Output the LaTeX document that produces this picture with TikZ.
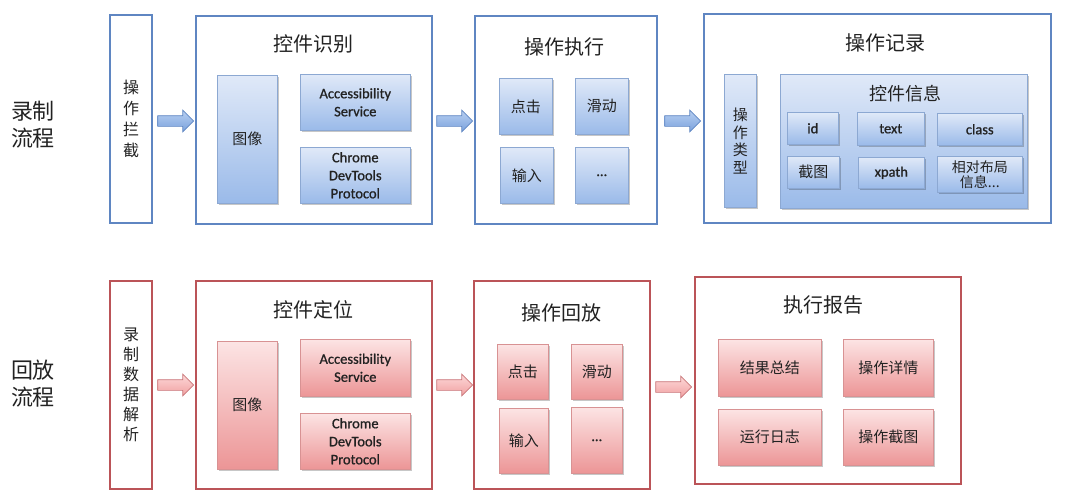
\documentclass[tikz,border=0pt]{standalone}
\usepackage{fontspec}
\setmainfont{Carlito}
\newfontfamily\enf{Carlito}[FakeBold=0.9]
\newfontfamily\cjk{Noto Sans CJK SC}
\usetikzlibrary{shadows,shapes.arrows,calc}
\definecolor{bline}{HTML}{5F86C2}
\definecolor{bedge}{HTML}{8CA8D2}
\definecolor{btop}{HTML}{E0E9F8}
\definecolor{bbot}{HTML}{9ABAE9}
\definecolor{rline}{HTML}{BB5458}
\definecolor{redge}{HTML}{D89293}
\definecolor{rtop}{HTML}{FCE4E4}
\definecolor{rbot}{HTML}{EC9596}
\definecolor{abtop}{HTML}{B8CFF1}
\definecolor{abbot}{HTML}{7AA2DD}
\definecolor{artop}{HTML}{FDD8D8}
\definecolor{arbot}{HTML}{F0A0A1}
\definecolor{txt}{HTML}{222222}
\tikzset{
  outerB/.style={draw=bline, line width=2pt, fill=white, anchor=north west, inner sep=0pt},
  outerR/.style={draw=rline, line width=2pt, fill=white, anchor=north west, inner sep=0pt},
  innerB/.style={draw=bedge, line width=0.6pt, top color=btop, bottom color=bbot, anchor=north west,
     inner sep=1pt, align=center, text=txt,
     drop shadow={shadow xshift=1.2pt, shadow yshift=-1.5pt, fill=black, opacity=0.22}},
  innerR/.style={draw=redge, line width=0.6pt, top color=rtop, bottom color=rbot, anchor=north west,
     inner sep=1pt, align=center, text=txt,
     drop shadow={shadow xshift=1.2pt, shadow yshift=-1.5pt, fill=black, opacity=0.22}},
  arrB/.style={single arrow, draw=bline, line width=0.7pt, top color=abtop, bottom color=abbot,
     inner sep=5pt, single arrow head extend=5.5pt, minimum height=36pt, single arrow head indent=0pt},
  arrR/.style={single arrow, draw=rline!80, line width=0.7pt, top color=artop, bottom color=arbot,
     inner sep=5pt, single arrow head extend=5.5pt, minimum height=36pt, single arrow head indent=0pt},
  ttl/.style={font=\cjk\fontsize{20}{24}\selectfont, text=txt},
  side/.style={font=\cjk\fontsize{22}{27}\selectfont, text=txt, align=left},
  vert/.style={font=\cjk\fontsize{16}{21}\selectfont, text=txt, align=center},
  cn/.style={font=\cjk\fontsize{15}{17}\selectfont},
  en/.style={font=\enf\fontsize{14.5}{18}\selectfont},
}
\begin{document}
\begin{tikzpicture}[x=1pt,y=-1pt]
\useasboundingbox (0,0) rectangle (1080,498);
% ---------- top row ----------
\node[side] (lbl1) at (33,125) {录制\\流程};
\node[outerB, minimum width=42pt, minimum height=208pt] (lan) at (109,14) {};
\node[vert] (lant) at (lan.center) {操\\作\\拦\\截};
\node[arrB] (a1) at (173,121) {};
\node[outerB, minimum width=236pt, minimum height=208pt] (rec) at (195,15) {};
\node[ttl] (t1) at (313,44) {控件识别};
\node[innerB, cn, minimum width=60pt, minimum height=128pt] (img1) at (217,75) {图像};
\node[innerB, en, minimum width=110pt, minimum height=56pt] (acc1) at (300,74) {Accessibility\\Service};
\node[innerB, en, minimum width=110pt, minimum height=56pt] (cdp1) at (300,147) {Chrome\\DevTools\\Protocol};
\node[arrB] (a2) at (452,121) {};
\node[outerB, minimum width=182pt, minimum height=208pt] (exe) at (474,15) {};
\node[ttl] (t2) at (564,47) {操作执行};
\node[innerB, cn, minimum width=53pt, minimum height=56pt] (ck1) at (499,78) {点击};
\node[innerB, cn, minimum width=53pt, minimum height=56pt] (hd1) at (575,78) {滑动};
\node[innerB, cn, minimum width=53pt, minimum height=56pt] (sr1) at (500,147) {输入};
\node[innerB, en, minimum width=53pt, minimum height=56pt] (el1) at (575,147) {…};
\node[arrB] (a3) at (680,121) {};
\node[outerB, minimum width=347pt, minimum height=209pt] (log) at (703,13) {};
\node[ttl] (t3) at (885,43) {操作记录};
\node[innerB, font=\cjk\fontsize{15}{17.5}\selectfont, minimum width=32pt, minimum height=133pt] (typ) at (724,74) {操\\作\\类\\型};
\node[innerB, minimum width=247pt, minimum height=134pt] (info) at (780,74) {};
\node[font=\cjk\fontsize{18}{20}\selectfont, text=txt] (t4) at (905,94) {控件信息};
\node[innerB, en, minimum width=51pt, minimum height=32pt] (id) at (787,112) {id};
\node[innerB, en, minimum width=67pt, minimum height=33pt] (tx) at (857,112) {text};
\node[innerB, en, minimum width=85pt, minimum height=32pt] (cl) at (937,113) {class};
\node[innerB, cn, minimum width=52pt, minimum height=32pt] (sh) at (787,156) {截图};
\node[innerB, en, minimum width=66pt, minimum height=31pt] (xp) at (858,157) {xpath};
\node[innerB, font=\cjk\fontsize{14}{15}\selectfont, minimum width=85pt, minimum height=36pt] (rel) at (937,156) {相对布局\\信息...};
% ---------- bottom row ----------
\node[side] (lbl2) at (33,384) {回放\\流程};
\node[outerR, minimum width=42pt, minimum height=208pt] (par) at (109,280) {};
\node[vert, font=\cjk\fontsize{16}{20}\selectfont] (part) at (par.center) {录\\制\\数\\据\\解\\析};
\node[arrR] (b1) at (173,385) {};
\node[outerR, minimum width=236pt, minimum height=208pt] (loc) at (195,280) {};
\node[ttl] (t5) at (313,310) {控件定位};
\node[innerR, cn, minimum width=60pt, minimum height=128pt] (img2) at (217,341) {图像};
\node[innerR, en, minimum width=110pt, minimum height=57pt] (acc2) at (300,339) {Accessibility\\Service};
\node[innerR, en, minimum width=110pt, minimum height=56pt] (cdp2) at (300,413) {Chrome\\DevTools\\Protocol};
\node[arrR] (b2) at (452,385) {};
\node[outerR, minimum width=176pt, minimum height=208pt] (rep) at (473,280) {};
\node[ttl] (t6) at (561,313) {操作回放};
\node[innerR, cn, minimum width=51pt, minimum height=55pt] (ck2) at (497,344) {点击};
\node[innerR, cn, minimum width=51pt, minimum height=55pt] (hd2) at (571,344) {滑动};
\node[innerR, cn, minimum width=49pt, minimum height=65pt] (sr2) at (499,408) {输入};
\node[innerR, en, minimum width=51pt, minimum height=66pt] (el2) at (571,407) {…};
\node[arrR] (b3) at (671,387) {};
\node[outerR, minimum width=266pt, minimum height=207pt] (rpt) at (694,276) {};
\node[ttl] (t7) at (823,305) {执行报告};
\node[innerR, cn, minimum width=103pt, minimum height=57pt] (sum) at (718,339) {结果总结};
\node[innerR, cn, minimum width=90pt, minimum height=57pt] (det) at (843,339) {操作详情};
\node[innerR, cn, minimum width=103pt, minimum height=56pt] (lg) at (718,409) {运行日志};
\node[innerR, cn, minimum width=90pt, minimum height=56pt] (shots) at (843,409) {操作截图};
\end{tikzpicture}
\end{document}
